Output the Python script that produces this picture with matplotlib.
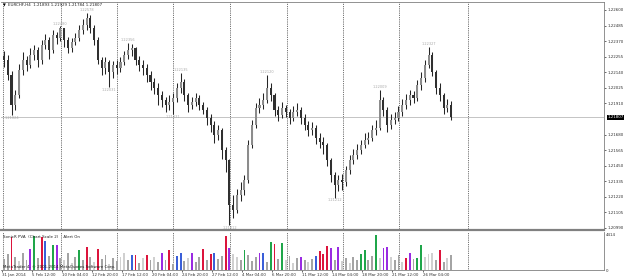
import numpy as np
import matplotlib
matplotlib.use('Agg')
import matplotlib.pyplot as plt
import matplotlib.transforms as mtransforms

# EURCHF H4 bars
opens = [1.22260, 1.22231, 1.22120, 1.21898, 1.21972, 1.22157, 1.22231, 1.22194, 1.22268, 1.22305,
         1.22231, 1.22342, 1.22378, 1.22305, 1.22415, 1.22393, 1.22467, 1.22378, 1.22319, 1.22364,
         1.22393, 1.22452, 1.22489, 1.22541, 1.22467, 1.22378, 1.22231, 1.22172, 1.22216, 1.22142,
         1.22194, 1.22172, 1.22216, 1.22268, 1.22305, 1.22319, 1.22231, 1.22194, 1.22172, 1.22120,
         1.22068, 1.22024, 1.21972, 1.21935, 1.21898, 1.21921, 1.21950, 1.22024, 1.22068, 1.21972,
         1.21898, 1.21921, 1.21950, 1.21898, 1.21861, 1.21802, 1.21751, 1.21677, 1.21714, 1.21566,
         1.21492, 1.21160, 1.21123, 1.21234, 1.21271, 1.21344, 1.21603, 1.21751, 1.21876, 1.21898,
         1.21935, 1.22024, 1.21972, 1.21861, 1.21825, 1.21876, 1.21847, 1.21802, 1.21847, 1.21861,
         1.21802, 1.21751, 1.21714, 1.21729, 1.21655, 1.21625, 1.21603, 1.21492, 1.21381, 1.21308,
         1.21344, 1.21330, 1.21418, 1.21492, 1.21529, 1.21566, 1.21603, 1.21640, 1.21655, 1.21714,
         1.21729, 1.21935, 1.21861, 1.21751, 1.21788, 1.21802, 1.21847, 1.21898, 1.21935, 1.21972,
         1.21950, 1.22046, 1.22098, 1.22194, 1.22268, 1.22142, 1.22024, 1.21972, 1.21876, 1.21898]
highs = [1.22300, 1.22270, 1.22150, 1.22010, 1.22200, 1.22290, 1.22260, 1.22320, 1.22340, 1.22330,
         1.22380, 1.22420, 1.22400, 1.22450, 1.22440, 1.22480, 1.22470, 1.22400, 1.22390, 1.22430,
         1.22490, 1.22530, 1.22578, 1.22560, 1.22490, 1.22400, 1.22250, 1.22250, 1.22230, 1.22220,
         1.22230, 1.22250, 1.22300, 1.22356, 1.22350, 1.22330, 1.22260, 1.22230, 1.22200, 1.22150,
         1.22100, 1.22060, 1.22000, 1.21960, 1.21970, 1.21990, 1.22060, 1.22135, 1.22090, 1.21990,
         1.21960, 1.21990, 1.21970, 1.21920, 1.21880, 1.21830, 1.21780, 1.21750, 1.21730, 1.21590,
         1.21500, 1.21230, 1.21280, 1.21330, 1.21380, 1.21640, 1.21790, 1.21910, 1.21950, 1.21990,
         1.22120, 1.22060, 1.21990, 1.21890, 1.21920, 1.21900, 1.21870, 1.21890, 1.21910, 1.21880,
         1.21830, 1.21780, 1.21770, 1.21750, 1.21690, 1.21660, 1.21620, 1.21510, 1.21400, 1.21380,
         1.21390, 1.21450, 1.21530, 1.21570, 1.21610, 1.21640, 1.21690, 1.21700, 1.21750, 1.21790,
         1.22009, 1.21960, 1.21880, 1.21830, 1.21850, 1.21890, 1.21940, 1.21980, 1.22010, 1.22000,
         1.22080, 1.22140, 1.22230, 1.22327, 1.22290, 1.22160, 1.22060, 1.21990, 1.21940, 1.21929]
lows = [1.22180, 1.22080, 1.21824, 1.21860, 1.21950, 1.22120, 1.22150, 1.22170, 1.22230, 1.22180,
        1.22200, 1.22310, 1.22240, 1.22280, 1.22350, 1.22370, 1.22330, 1.22280, 1.22290, 1.22340,
        1.22370, 1.22420, 1.22450, 1.22430, 1.22340, 1.22200, 1.22120, 1.22130, 1.22031, 1.22100,
        1.22130, 1.22140, 1.22190, 1.22240, 1.22260, 1.22190, 1.22150, 1.22120, 1.22070, 1.22010,
        1.21980, 1.21900, 1.21880, 1.21850, 1.21860, 1.21831, 1.21920, 1.21990, 1.21930, 1.21850,
        1.21870, 1.21890, 1.21860, 1.21832, 1.21750, 1.21700, 1.21620, 1.21640, 1.21500, 1.21400,
        1.21012, 1.21060, 1.21100, 1.21190, 1.21230, 1.21320, 1.21580, 1.21730, 1.21840, 1.21870,
        1.21910, 1.21930, 1.21820, 1.21780, 1.21800, 1.21810, 1.21760, 1.21780, 1.21820, 1.21760,
        1.21710, 1.21670, 1.21680, 1.21610, 1.21580, 1.21540, 1.21450, 1.21330, 1.21212, 1.21260,
        1.21270, 1.21300, 1.21390, 1.21460, 1.21500, 1.21540, 1.21580, 1.21610, 1.21630, 1.21680,
        1.21710, 1.21820, 1.21700, 1.21720, 1.21760, 1.21780, 1.21820, 1.21870, 1.21900, 1.21910,
        1.21930, 1.22010, 1.22070, 1.22170, 1.22110, 1.21980, 1.21930, 1.21830, 1.21850, 1.21784]
closes = [1.22231, 1.22120, 1.21898, 1.21972, 1.22157, 1.22231, 1.22194, 1.22268, 1.22305, 1.22231,
          1.22342, 1.22378, 1.22305, 1.22415, 1.22393, 1.22467, 1.22378, 1.22319, 1.22364, 1.22393,
          1.22452, 1.22489, 1.22541, 1.22467, 1.22378, 1.22231, 1.22172, 1.22216, 1.22142, 1.22194,
          1.22172, 1.22216, 1.22268, 1.22305, 1.22319, 1.22231, 1.22194, 1.22172, 1.22120, 1.22068,
          1.22024, 1.21972, 1.21935, 1.21898, 1.21921, 1.21950, 1.22024, 1.22068, 1.21972, 1.21898,
          1.21921, 1.21950, 1.21898, 1.21861, 1.21802, 1.21751, 1.21677, 1.21714, 1.21566, 1.21492,
          1.21160, 1.21123, 1.21234, 1.21271, 1.21344, 1.21603, 1.21751, 1.21876, 1.21898, 1.21935,
          1.22024, 1.21972, 1.21861, 1.21825, 1.21876, 1.21847, 1.21802, 1.21847, 1.21861, 1.21802,
          1.21751, 1.21714, 1.21729, 1.21655, 1.21625, 1.21603, 1.21492, 1.21381, 1.21308, 1.21344,
          1.21330, 1.21418, 1.21492, 1.21529, 1.21566, 1.21603, 1.21640, 1.21655, 1.21714, 1.21729,
          1.21935, 1.21861, 1.21751, 1.21788, 1.21802, 1.21847, 1.21898, 1.21935, 1.21972, 1.21950,
          1.22046, 1.22098, 1.22194, 1.22268, 1.22142, 1.22024, 1.21972, 1.21876, 1.21898, 1.21807]

# SonicR PVA volumes and their colour class
volumes = [1400, 2000, 4140, 1600, 1100, 2200, 1300, 2620, 4280, 1500,
           4140, 3600, 1800, 3170, 3170, 1500, 1200, 2100, 900, 1600,
           2480, 1300, 2900, 1700, 1000, 2620, 1400, 1900, 800, 1500,
           1100, 1700, 2100, 1200, 1930, 1930, 900, 1500, 1930, 1200,
           1700, 1000, 2200, 1300, 2480, 800, 1790, 2200, 1100, 1500,
           2200, 1000, 1600, 2620, 1200, 2070, 2200, 1400, 1800, 4280,
           2760, 2000, 1600, 1300, 2480, 1900, 1100, 1700, 2200, 2200,
           1000, 3590, 3310, 1400, 3450, 1200, 1800, 900, 1500, 1660,
           1300, 1000, 1400, 1790, 2350, 2070, 3040, 2760, 1300, 2900,
           1100, 1500, 900, 1700, 1200, 2070, 2480, 1300, 1800, 4400,
           1500, 2760, 2900, 1600, 1200, 1900, 1000, 1500, 2200, 1400,
           1520, 3170, 1700, 2000, 2100, 1200, 2480, 1000, 1500, 1900]
vol_class = list('ggrglggpGgrbgGpglglg'
                 'Ggrglrgglggllgbrglrg'
                 'lgpgrgbbglpggrgrbggr'
                 'pllgGgggpbgGrgGlglgp'
                 'glgbrrrpgplglggGGggG'
                 'lpplgglrpgGGlllgrglg')

time_labels = ['31 Jan 2014', '5 Feb 12:00', '10 Feb 04:00', '12 Feb 20:00', '17 Feb 12:00',
               '20 Feb 04:00', '24 Feb 20:00', '27 Feb 12:00', '4 Mar 04:00', '6 Mar 20:00',
               '11 Mar 12:00', '14 Mar 04:00', '18 Mar 20:00', '21 Mar 12:00', '26 Mar 04:00']
label_bars = [0, 8, 16, 24, 32, 40, 48, 56, 64, 72, 80, 88, 96, 104, 112]
week_starts = [-0.3, 15.2, 30.1, 45.0, 60.2, 75.3, 90.3, 105.2, 123.5]
price_ticks = [1.22600, 1.22485, 1.22370, 1.22255, 1.22140, 1.22025, 1.21910,
               1.21680, 1.21565, 1.21450, 1.21335, 1.21220, 1.21105, 1.20990]
fractals = [(2, 'low'), (15, 'high'), (22, 'high'), (28, 'low'), (33, 'high'), (45, 'low'),
            (47, 'high'), (60, 'low'), (70, 'high'), (88, 'low'), (100, 'high'), (113, 'high')]
bid = 1.21807

colors = {'g': '#a4a4a4', 'l': '#d0d0d0', 'r': '#dc143c', 'G': '#1fa64a',
          'b': '#3a5fd8', 'p': '#9a2be2'}
FS = 2.9

fig = plt.figure(figsize=(6.25, 2.8), dpi=100)
ax = fig.add_axes([1 / 625, 50 / 280, 603 / 625, 228 / 280])
axv = fig.add_axes([1 / 625, 10 / 280, 603 / 625, 38 / 280], sharex=ax)

idx = np.arange(len(closes))
o = np.array(opens); c = np.array(closes)
bull = c >= o
ax.vlines(idx, lows, highs, color='#252525', lw=0.75, zorder=3)
ax.bar(idx[bull], (c - o)[bull], bottom=o[bull], width=0.55, color='#8c8c8c', zorder=4)
ax.bar(idx[~bull], (o - c)[~bull], bottom=c[~bull], width=0.55, color='#303030', zorder=4)

for i, kind in fractals:
    if kind == 'high':
        ax.text(i, highs[i] + 0.00004, f'{highs[i]:.5f}', fontsize=2.5, color='#a8a8a8',
                ha='center', va='bottom')
    else:
        ax.text(i, lows[i] - 0.00004, f'{lows[i]:.5f}', fontsize=2.5, color='#a8a8a8',
                ha='center', va='top')

ax.axhline(bid, color='#c4c4c4', lw=0.7, zorder=1)
for a in (ax, axv):
    for w in week_starts:
        a.axvline(w, color='#404040', lw=0.6, ls=(0, (1, 1.2)), zorder=0)

ax.set_xlim(-0.8, 159.7)
ax.set_ylim(1.20975, 1.22659)
ax.yaxis.tick_right()
ax.set_yticks(price_ticks)
ax.set_yticklabels([f'{p:.5f}' for p in price_ticks])
ax.tick_params(axis='y', labelsize=FS, length=1.5, width=0.5, pad=1, colors='#303030')
ax.tick_params(axis='x', bottom=False, labelbottom=False)
tr = mtransforms.blended_transform_factory(ax.transAxes, ax.transData)
ax.text(1.006, bid, f'{bid:.5f}', transform=tr, fontsize=FS, color='white', va='center',
        ha='left', bbox=dict(boxstyle='square,pad=0.15', fc='black', ec='none'))
ax.text(0.003, 0.995, '\u25bc', transform=ax.transAxes, fontsize=2.6, va='top', ha='left')
ax.text(0.012, 0.995, 'EURCHF,H4  1.21893 1.21929 1.21784 1.21807', transform=ax.transAxes,
        fontsize=FS, va='top', ha='left', color='#202020')
for s in ax.spines.values():
    s.set_color('#808080'); s.set_linewidth(0.6)
ax.spines['left'].set_visible(False)
ax.spines['bottom'].set_linewidth(1.6)

axv.bar(idx, volumes, width=0.5, color=[colors[k] for k in vol_class])
axv.set_ylim(0, 4792)
axv.yaxis.tick_right()
axv.set_yticks([0, 4414])
axv.set_yticklabels(['0', '4414'])
axv.tick_params(axis='y', labelsize=FS, length=0, pad=1.5, colors='#303030')
axv.set_xticks([b - 0.6 for b in label_bars])
axv.set_xticklabels(time_labels, ha='left')
axv.tick_params(axis='x', labelsize=FS, length=1.5, width=0.5, pad=0.6, colors='#303030')
axv.text(0.004, 0.93, 'SonicR PVA  (Chart Scale 2)    Alert On', transform=axv.transAxes,
         fontsize=FS, va='top', ha='left', color='#202020')
axv.text(0.004, 0.03, 'MetaTrader 4, \u00a9 2001-2014 MetaQuotes Software Corp.',
         transform=axv.transAxes, fontsize=FS, va='bottom', ha='left', color='#202020')
for s in axv.spines.values():
    s.set_color('#808080'); s.set_linewidth(0.6)
axv.spines['left'].set_visible(False)
axv.spines['top'].set_visible(False)

fig.savefig('out.png', dpi=100, facecolor='white')
